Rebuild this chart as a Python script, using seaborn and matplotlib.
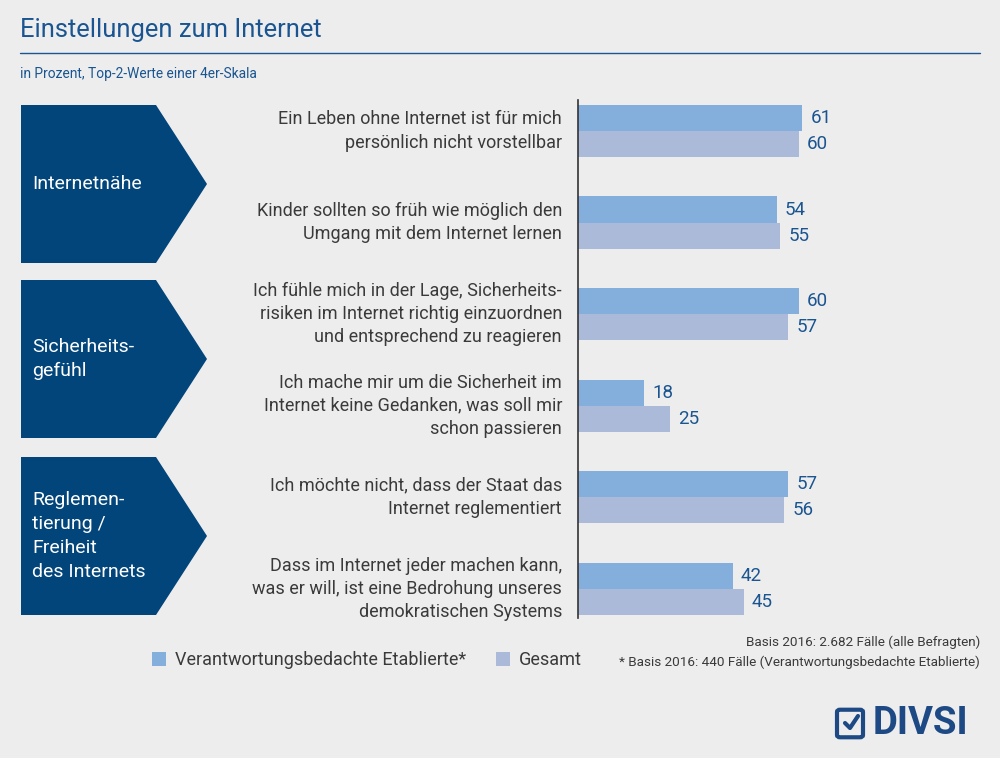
import pandas as pd
import matplotlib.pyplot as plt
import seaborn as sns
from matplotlib.patches import Polygon, Patch, FancyBboxPatch
from matplotlib.lines import Line2D

# data
statements = [
    "Ein Leben ohne Internet ist für mich\npersönlich nicht vorstellbar",
    "Kinder sollten so früh wie möglich den\nUmgang mit dem Internet lernen",
    "Ich fühle mich in der Lage, Sicherheits-\nrisiken im Internet richtig einzuordnen\nund entsprechend zu reagieren",
    "Ich mache mir um die Sicherheit im\nInternet keine Gedanken, was soll mir\nschon passieren",
    "Ich möchte nicht, dass der Staat das\nInternet reglementiert",
    "Dass im Internet jeder machen kann,\nwas er will, ist eine Bedrohung unseres\ndemokratischen Systems",
]
etablierte = [61, 54, 60, 18, 57, 42]
gesamt = [60, 55, 57, 25, 56, 45]
series = ["Verantwortungsbedachte Etablierte*", "Gesamt"]
groups = ["Internetnähe", "Sicherheits-\ngefühl", "Reglemen-\ntierung /\nFreiheit\ndes Internets"]

df = pd.DataFrame({
    "statement": statements * 2,
    "value": etablierte + gesamt,
    "series": [series[0]] * 6 + [series[1]] * 6,
})

bg = "#ededed"
blue_dark = "#02457b"
title_col = "#1a5591"
colors = ["#84aedb", "#aabad8"]
text_col = "#3a3a3a"

sns.set_theme(style="white")
plt.rcParams["font.family"] = ["Roboto", "DejaVu Sans"]

W, H = 1000, 758
fig = plt.figure(figsize=(10, 7.58), dpi=100, facecolor=bg)


def fx(px):
    return px / W


def fy(py):
    return 1 - py / H


# bar axes
ax = fig.add_axes([fx(578), fy(618), fx(980 - 578), (618 - 100) / H])
ax.set_facecolor(bg)
sns.barplot(data=df, x="value", y="statement", hue="series", orient="h",
            palette=colors, saturation=1, width=0.57, ax=ax, legend=False,
            edgecolor="none")
ax.set_xlim(0, 402 / 3.68)
ax.set_ylim(5.317, -0.338)
for c in ax.containers:
    ax.bar_label(c, padding=6, color=title_col, fontsize=13.5)
ax.set_xlabel("")
ax.set_ylabel("")
ax.set_xticks([])
ax.set_yticks([])
for s in ["top", "right", "bottom"]:
    ax.spines[s].set_visible(False)
ax.spines["left"].set_color("#333333")
ax.spines["left"].set_linewidth(1.2)

# statement labels
for i, s in enumerate(statements):
    ax.text(-16 / 3.68, i, s, ha="right", va="center", multialignment="right",
            fontsize=13, color=text_col, linespacing=1.37)

# title area
fig.text(fx(20), fy(30), "Einstellungen zum Internet", fontsize=18.4, color=title_col,
         va="center", ha="left")
fig.add_artist(Line2D([fx(20), fx(980)], [fy(53), fy(53)], color=title_col, lw=1))
fig.text(fx(20), fy(74), "in Prozent, Top-2-Werte einer 4er-Skala", fontsize=9.9,
         color=title_col, va="center", ha="left")

# chevron boxes
boxes = [(105, 263), (280, 438), (457, 615)]
for (top, bot), g in zip(boxes, groups):
    mid = (top + bot) / 2
    pts = [(fx(21), fy(top)), (fx(156), fy(top)), (fx(207), fy(mid)),
           (fx(156), fy(bot)), (fx(21), fy(bot))]
    fig.add_artist(Polygon(pts, closed=True, facecolor=blue_dark, edgecolor="none"))
    fig.text(fx(32), fy(mid), g, color="white", fontsize=14, va="center", ha="left",
             linespacing=1.45)

# legend
handles = [Patch(facecolor=colors[0], edgecolor="none"), Patch(facecolor=colors[1], edgecolor="none")]
fig.legend(handles, series, loc="center", bbox_to_anchor=(fx(367), fy(660)), ncol=2,
           frameon=False, handlelength=0.8, handleheight=0.8, handletextpad=0.5,
           columnspacing=1.6, fontsize=13, labelcolor=text_col)

# footnotes
fig.text(fx(980), fy(642), "Basis 2016: 2.682 Fälle (alle Befragten)", ha="right",
         va="center", fontsize=9.7, color=text_col)
fig.text(fx(980), fy(662), "* Basis 2016: 440 Fälle (Verantwortungsbedachte Etablierte)",
         ha="right", va="center", fontsize=9.7, color=text_col)

# logo
logo_col = "#1d4a85"
fig.add_artist(FancyBboxPatch((fx(840), fy(735)), fx(20), 23 / H,
                              boxstyle="round,pad=0.003", facecolor="none",
                              edgecolor=logo_col, lw=3))
fig.add_artist(Line2D([fx(845), fx(850), fx(858)], [fy(723), fy(728), fy(716)],
                      color=logo_col, lw=3))
fig.text(fx(873), fy(724), "DIVSI", fontsize=27.5, fontweight="bold", color=logo_col,
         va="center", ha="left")

fig.savefig("out.png", dpi=100, facecolor=bg)
